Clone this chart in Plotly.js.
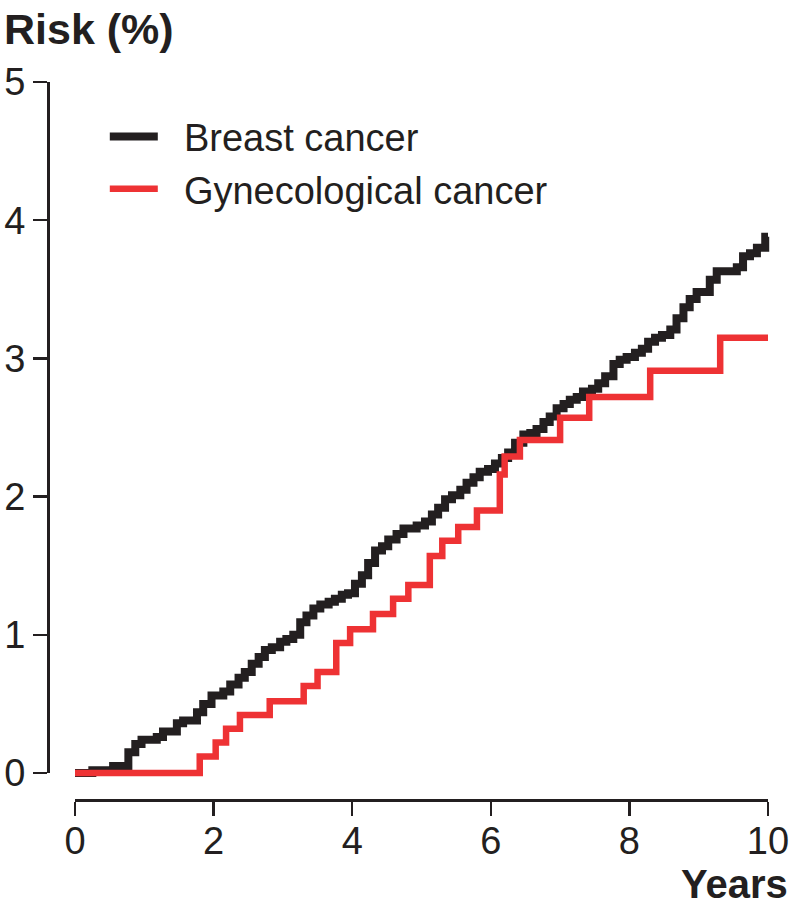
<!DOCTYPE html>
<html>
<head>
<meta charset="utf-8">
<script src="https://cdn.plot.ly/plotly-3.0.1.min.js"></script>
<style>
  html, body { margin: 0; padding: 0; background: #ffffff; }
  #chart { width: 800px; height: 907px; }
</style>
</head>
<body>
<div id="chart"></div>
<script>
// ---- data ----
const seriesNames = ["Breast cancer", "Gynecological cancer"];

const breastYears = [0, 0.25, 0.55, 0.77, 0.87, 0.96, 1.18, 1.27, 1.47, 1.56,
  1.76, 1.85, 1.97, 2.14, 2.24, 2.36, 2.45, 2.55, 2.65, 2.74,
  2.84, 2.96, 3.05, 3.15, 3.25, 3.34, 3.44, 3.54, 3.66, 3.75,
  3.85, 3.94, 4.04, 4.14, 4.23, 4.33, 4.43, 4.52, 4.64, 4.74,
  4.93, 5.05, 5.15, 5.24, 5.34, 5.44, 5.56, 5.65, 5.75, 5.84,
  5.96, 6.06, 6.16, 6.25, 6.35, 6.47, 6.57, 6.66, 6.76, 6.85,
  6.95, 7.05, 7.14, 7.24, 7.33, 7.46, 7.55, 7.65, 7.77, 7.86,
  7.96, 8.08, 8.18, 8.27, 8.37, 8.47, 8.59, 8.68, 8.78, 8.87,
  8.97, 9.16, 9.26, 9.55, 9.64, 9.74, 9.84, 9.96, 10];
const breastRisk = [0, 0.02, 0.05, 0.15, 0.21, 0.24, 0.26, 0.30, 0.36, 0.38,
  0.44, 0.50, 0.56, 0.59, 0.64, 0.69, 0.73, 0.79, 0.84, 0.89,
  0.91, 0.95, 0.97, 1.00, 1.09, 1.14, 1.19, 1.22, 1.24, 1.26,
  1.29, 1.30, 1.37, 1.43, 1.52, 1.61, 1.64, 1.69, 1.73, 1.77,
  1.79, 1.82, 1.87, 1.92, 1.98, 2.01, 2.05, 2.10, 2.14, 2.18,
  2.20, 2.24, 2.28, 2.32, 2.39, 2.45, 2.46, 2.49, 2.54, 2.58,
  2.64, 2.67, 2.70, 2.72, 2.76, 2.78, 2.82, 2.87, 2.96, 2.99,
  3.01, 3.04, 3.07, 3.12, 3.15, 3.17, 3.21, 3.29, 3.37, 3.43,
  3.48, 3.57, 3.63, 3.66, 3.74, 3.76, 3.80, 3.88, 3.88];

const gynYears = [0, 1.80, 2.03, 2.18, 2.38, 2.81, 3.30, 3.50, 3.77, 3.97,
  4.30, 4.59, 4.81, 5.12, 5.30, 5.53, 5.80, 6.13, 6.20, 6.42,
  7.0, 7.42, 8.30, 9.31, 10];
const gynRisk = [0, 0.12, 0.22, 0.32, 0.42, 0.52, 0.63, 0.73, 0.94, 1.04,
  1.15, 1.26, 1.36, 1.57, 1.68, 1.78, 1.90, 2.16, 2.29, 2.41,
  2.57, 2.72, 2.91, 3.15, 3.15];

const xTickVals = [0, 2, 4, 6, 8, 10];
const xTickText = ["0", "2", "4", "6", "8", "10"];
const yTickVals = [0, 1, 2, 3, 4, 5];
const yTickText = ["0", "1", "2", "3", "4", "5"];
const xTitle = "Years";
const yTitle = "Risk (%)";

// ---- layout geometry ----
const W = 800, H = 907;
const PX_X0 = 75, PX_X10 = 768;      // pixel of x=0 and x=10
const PX_Y0 = 773, PX_Y5 = 82;       // pixel of y=0 and y=5
const X_AXIS_LINE_PX = 800;          // detached x axis line
const Y_AXIS_LINE_PX = 48;           // detached y axis line
const xMax = 10, yMax = 5;

const pxPerX = (PX_X10 - PX_X0) / xMax;
const pxPerY = (PX_Y0 - PX_Y5) / yMax;
const dataXRange = [-0.2, 10.2];
const dataYRange = [-0.15, 5.1];
const dataXDomain = [(PX_X0 + dataXRange[0] * pxPerX) / W, (PX_X0 + dataXRange[1] * pxPerX) / W];
const dataYDomain = [(H - (PX_Y0 - dataYRange[0] * pxPerY)) / H, (H - (PX_Y0 - dataYRange[1] * pxPerY)) / H];

const INK = "#231f20";
const RED = "#ee3234";
const FONT = "Liberation Sans, Arial, Helvetica, sans-serif";
const GAP = "\u00a0\u00a0"; // spacing between legend swatch and label

const traces = [
  {
    x: breastYears, y: breastRisk, name: GAP + seriesNames[0],
    type: "scatter", mode: "lines",
    line: { shape: "hv", color: INK, width: 8 },
    xaxis: "x", yaxis: "y", hoverinfo: "skip"
  },
  {
    x: gynYears, y: gynRisk, name: GAP + seriesNames[1],
    type: "scatter", mode: "lines",
    line: { shape: "hv", color: RED, width: 6.5 },
    xaxis: "x", yaxis: "y", hoverinfo: "skip"
  },
  {
    x: [], y: [], xaxis: "x2", yaxis: "y2", showlegend: false,
    type: "scatter", mode: "lines", hoverinfo: "skip"
  }
];

const axisCommon = {
  showgrid: false, zeroline: false, showline: true,
  linecolor: INK, linewidth: 2.5,
  ticks: "outside", ticklen: 14, tickwidth: 2.5, tickcolor: INK,
  tickfont: { family: FONT, size: 38, color: INK },
  fixedrange: true
};

const layout = {
  width: W, height: H,
  margin: { l: 0, r: 0, t: 0, b: 0, pad: 0 },
  paper_bgcolor: "#ffffff",
  plot_bgcolor: "rgba(0,0,0,0)",
  font: { family: FONT, color: INK },
  showlegend: true,
  legend: {
    x: 0.131, y: 0.884, xanchor: "left", yanchor: "top",
    bgcolor: "rgba(0,0,0,0)", borderwidth: 0,
    font: { family: FONT, size: 38, color: INK },
    itemwidth: 48, tracegroupgap: 0
  },
  xaxis: {
    domain: dataXDomain, range: dataXRange, anchor: "y",
    visible: false, fixedrange: true
  },
  yaxis: {
    domain: dataYDomain, range: dataYRange, anchor: "x",
    visible: false, fixedrange: true
  },
  xaxis2: Object.assign({}, axisCommon, {
    domain: [PX_X0 / W, PX_X10 / W], range: [0, xMax],
    anchor: "free", position: (H - X_AXIS_LINE_PX) / H,
    tickmode: "array", tickvals: xTickVals, ticktext: xTickText,
    ticklabelstandoff: -7
  }),
  yaxis2: Object.assign({}, axisCommon, {
    domain: [(H - PX_Y0) / H, (H - PX_Y5) / H], range: [0, yMax],
    anchor: "free", position: Y_AXIS_LINE_PX / W,
    tickmode: "array", tickvals: yTickVals, ticktext: yTickText,
    ticklabelstandoff: 0
  }),
  annotations: [
    {
      text: yTitle, xref: "paper", yref: "paper",
      x: 2 / W, y: 1 - 3 / H, xanchor: "left", yanchor: "top",
      showarrow: false,
      font: { family: FONT, size: 43, color: INK, weight: "bold" }
    },
    {
      text: xTitle, xref: "paper", yref: "paper",
      x: 789 / W, y: 0, xanchor: "right", yanchor: "bottom",
      borderpad: 0, showarrow: false,
      font: { family: FONT, size: 40, color: INK, weight: "bold" }
    }
  ]
};

Plotly.newPlot("chart", traces, layout, { displayModeBar: false, staticPlot: true });
</script>
</body>
</html>
